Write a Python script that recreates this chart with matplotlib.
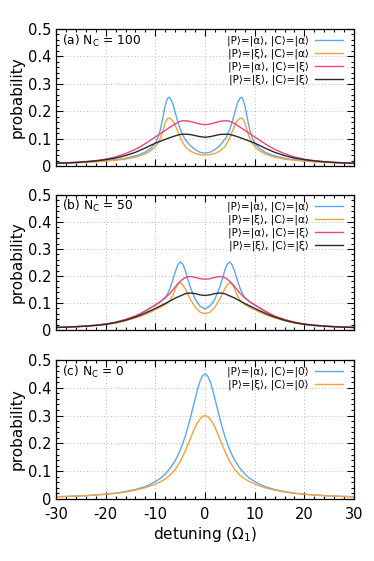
import numpy as np
import matplotlib
matplotlib.use("Agg")
import matplotlib.pyplot as plt
from matplotlib.ticker import MultipleLocator, FuncFormatter

plt.rcParams['font.family'] = ['DejaVu Sans']
plt.rcParams['axes.unicode_minus'] = False

# curves are symmetric in detuning, so only the x >= 0 half is tabulated
# panel (a), N_C = 100
xa = [0, 1, 2, 3, 4, 4.5, 5, 5.5, 6, 6.5, 7, 7.3, 7.6, 8, 8.5, 9, 9.5, 10,
      11, 12, 13, 14, 16, 18, 20, 22, 24, 26, 28, 30]
blue_a = [0.047, 0.050, 0.060, 0.075, 0.097, 0.113, 0.135, 0.163, 0.195, 0.228,
          0.247, 0.251, 0.245, 0.222, 0.175, 0.132, 0.103, 0.084, 0.063, 0.051,
          0.043, 0.037, 0.028, 0.023, 0.019, 0.016, 0.014, 0.012, 0.0107, 0.0096]
orange_a = [0.040, 0.041, 0.046, 0.055, 0.071, 0.086, 0.105, 0.127, 0.148, 0.165,
            0.174, 0.175, 0.172, 0.158, 0.127, 0.100, 0.083, 0.071, 0.055, 0.045,
            0.038, 0.032, 0.025, 0.021, 0.018, 0.0155, 0.0135, 0.0118, 0.0105, 0.0093]
red_a = [0.151, 0.153, 0.158, 0.163, 0.165, 0.165, 0.163, 0.159, 0.154, 0.148,
         0.142, 0.139, 0.135, 0.130, 0.124, 0.118, 0.112, 0.106, 0.094, 0.082,
         0.071, 0.061, 0.045, 0.033, 0.025, 0.0195, 0.016, 0.0135, 0.0117, 0.0103]
black_a = [0.105, 0.107, 0.111, 0.115, 0.116, 0.116, 0.115, 0.113, 0.110, 0.107,
           0.104, 0.102, 0.100, 0.097, 0.094, 0.090, 0.087, 0.083, 0.075, 0.066,
           0.058, 0.050, 0.038, 0.029, 0.023, 0.0185, 0.0155, 0.013, 0.0112, 0.0098]

# panel (b), N_C = 50
xb = [0, 1, 2, 3, 3.5, 4, 4.5, 5, 5.5, 6, 6.5, 7, 7.5, 8, 9, 10, 11, 12, 13, 14,
      16, 18, 20, 22, 24, 26, 28, 30]
blue_b = [0.078, 0.088, 0.115, 0.160, 0.190, 0.222, 0.245, 0.252, 0.240, 0.215,
          0.185, 0.157, 0.135, 0.121, 0.104, 0.092, 0.081, 0.070, 0.060, 0.051,
          0.038, 0.028, 0.022, 0.0175, 0.0145, 0.0122, 0.0106, 0.0093]
orange_b = [0.060, 0.066, 0.085, 0.115, 0.135, 0.153, 0.168, 0.175, 0.170, 0.150,
            0.128, 0.111, 0.101, 0.094, 0.084, 0.075, 0.066, 0.058, 0.051, 0.045,
            0.034, 0.026, 0.020, 0.0165, 0.0138, 0.0118, 0.0103, 0.009]
red_b = [0.188, 0.190, 0.195, 0.198, 0.197, 0.194, 0.188, 0.180, 0.170, 0.160,
         0.148, 0.137, 0.128, 0.119, 0.105, 0.093, 0.082, 0.071, 0.061, 0.052,
         0.039, 0.029, 0.022, 0.018, 0.015, 0.0125, 0.011, 0.0095]
black_b = [0.128, 0.130, 0.135, 0.137, 0.136, 0.134, 0.130, 0.126, 0.122, 0.118,
           0.113, 0.108, 0.103, 0.098, 0.089, 0.080, 0.071, 0.063, 0.055, 0.048,
           0.036, 0.027, 0.021, 0.017, 0.014, 0.012, 0.0105, 0.0092]

# panel (c), N_C = 0
xc = [0, 0.5, 1, 1.5, 2, 2.5, 3, 3.5, 4, 4.5, 5, 5.5, 6, 7, 8, 9, 10, 11, 12,
      14, 16, 18, 20, 22, 24, 26, 28, 30]
blue_c = [0.450, 0.443, 0.424, 0.395, 0.360, 0.324, 0.288, 0.255, 0.225, 0.199,
          0.176, 0.156, 0.138, 0.111, 0.090, 0.074, 0.063, 0.053, 0.045, 0.034,
          0.027, 0.021, 0.0175, 0.0145, 0.0122, 0.0105, 0.0092, 0.008]
orange_c = [0.300, 0.297, 0.288, 0.275, 0.258, 0.237, 0.215, 0.193, 0.172, 0.153,
            0.135, 0.120, 0.106, 0.086, 0.072, 0.062, 0.054, 0.047, 0.041, 0.032,
            0.025, 0.0205, 0.017, 0.0143, 0.0121, 0.0104, 0.0091, 0.008]

labels4 = ['|P⟩=|α⟩, |C⟩=|α⟩', '|P⟩=|ξ⟩, |C⟩=|α⟩',
           '|P⟩=|α⟩, |C⟩=|ξ⟩', '|P⟩=|ξ⟩, |C⟩=|ξ⟩']
labels2 = ['|P⟩=|α⟩, |C⟩=|0⟩', '|P⟩=|ξ⟩, |C⟩=|0⟩']
colors = ['#5aa8f2', '#f4a23c', '#f0447a', '#2a2a2a']
titles = ['(a) N$_\\mathrm{C}$ = 100', '(b) N$_\\mathrm{C}$ = 50', '(c) N$_\\mathrm{C}$ = 0']


def mirror(x, y):
    x = np.asarray(x, float)
    y = np.asarray(y, float)
    return np.concatenate((-x[:0:-1], x)), np.concatenate((y[:0:-1], y))


def style_axes(ax, show_x):
    ax.set_xlim(-30, 30)
    ax.set_ylim(0, 0.5)
    ax.xaxis.set_major_locator(MultipleLocator(10))
    ax.xaxis.set_minor_locator(MultipleLocator(2))
    ax.yaxis.set_major_locator(MultipleLocator(0.1))
    ax.yaxis.set_minor_locator(MultipleLocator(0.02))
    ax.yaxis.set_major_formatter(FuncFormatter(lambda v, p: '0' if abs(v) < 1e-9 else '%.1f' % v))
    ax.tick_params(which='both', direction='in', top=True, right=True, labelsize=10.5)
    ax.tick_params(which='major', length=5, width=0.8)
    ax.tick_params(which='minor', length=2.5, width=0.8)
    ax.tick_params(axis='x', pad=6)
    if not show_x:
        ax.tick_params(labelbottom=False)
    ax.grid(True, which='major', color='#b8b8b8', linestyle=(0, (1, 2.5)), linewidth=0.7)
    ax.set_axisbelow(True)
    for s in ax.spines.values():
        s.set_linewidth(0.9)
    ax.set_ylabel('probability', fontsize=11, labelpad=2)


fig = plt.figure(figsize=(3.74, 5.61), dpi=100)
ax_a = fig.add_axes([0.1497, 0.7041, 0.797, 0.2442])
ax_b = fig.add_axes([0.1497, 0.4118, 0.797, 0.2406])
ax_c = fig.add_axes([0.1497, 0.1105, 0.797, 0.2478])

panels = [
    (ax_a, xa, [blue_a, orange_a, red_a, black_a], labels4),
    (ax_b, xb, [blue_b, orange_b, red_b, black_b], labels4),
    (ax_c, xc, [blue_c, orange_c], labels2),
]

for i, (ax, xh, series, labs) in enumerate(panels):
    for y, lab, col in zip(series, labs, colors):
        xx, yy = mirror(xh, y)
        ax.plot(xx, yy, color=col, lw=1.0, label=lab)
    style_axes(ax, show_x=(i == 2))
    ax.text(0.02, 0.975, titles[i], transform=ax.transAxes, ha='left', va='top', fontsize=8.8)
    leg = ax.legend(loc='upper right', frameon=False, fontsize=7.5, markerfirst=False,
                    handlelength=2.7, handletextpad=0.6, labelspacing=0.22,
                    borderaxespad=0.2, bbox_to_anchor=(0.985, 0.995))
    for t in leg.get_texts():
        t.set_ha('right')

ax_c.set_xlabel('detuning ($\\Omega_1$)', fontsize=11, labelpad=2)

fig.savefig('out.png', dpi=100)
